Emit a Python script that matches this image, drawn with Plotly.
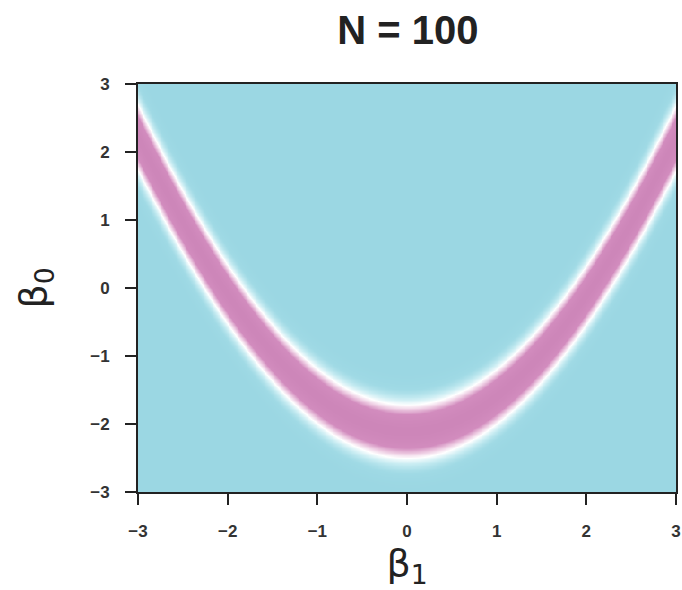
import numpy as np
import plotly.graph_objects as go

# Ridge of the likelihood band and its vertical spread
ridge_beta1 = [-3, -2, -1, 0, 1, 2, 3]
ridge_beta0 = [2.21, -0.1, -1.58, -2.12, -1.58, -0.1, 2.21]
band_sigma = [0.31, 0.28, 0.26, 0.25, 0.26, 0.28, 0.31]

x_ticks = [-3, -2, -1, 0, 1, 2, 3]
y_ticks = [-3, -2, -1, 0, 1, 2, 3]
title_text = "N = 100"

ridge_coef = np.polyfit(ridge_beta1, ridge_beta0, 4)
sigma_coef = np.polyfit(ridge_beta1, band_sigma, 2)
b1 = np.linspace(-3, 3, 301)
b0 = np.linspace(-3, 3, 301)
B1, B0 = np.meshgrid(b1, b0)
ridge = np.polyval(ridge_coef, B1)
sig = np.polyval(sigma_coef, B1)
Z = np.exp(-0.5 * ((B0 - ridge) / sig) ** 2)

cyan = "rgb(155,215,227)"
colorscale = [
    [0.0, cyan],
    [0.05, "rgb(160,218,229)"],
    [0.16, "rgb(200,236,242)"],
    [0.3, "rgb(255,255,255)"],
    [0.45, "rgb(236,200,224)"],
    [0.62, "rgb(210,140,190)"],
    [1.0, "rgb(205,134,185)"],
]

fig = go.Figure(go.Heatmap(x=b1, y=b0, z=Z, colorscale=colorscale, zmin=0, zmax=1,
                           showscale=False, zsmooth="best", hoverinfo="skip"))

tickfont = dict(family="Liberation Sans Narrow, Liberation Sans, Arial", size=17,
                color="#333", weight="bold")
axis_common = dict(
    range=[-3, 3], showgrid=False, zeroline=False, showline=True, linecolor="#222",
    linewidth=2, mirror=True, ticks="outside", ticklen=11, tickwidth=2, tickcolor="#222",
    tickfont=tickfont, automargin=False,
)

fig.update_xaxes(**axis_common, tickvals=x_ticks, ticklabelstandoff=12,
                 title=dict(text="β<sub>1</sub>", font=dict(family="DejaVu Sans", size=38, color="#222"),
                            standoff=0))
fig.update_yaxes(**axis_common, tickvals=y_ticks, ticklabelstandoff=12,
                 title=dict(text="β<sub>0</sub>", font=dict(family="DejaVu Sans", size=38, color="#222"),
                            standoff=32))

fig.update_layout(
    width=682, height=590,
    margin=dict(l=138, r=6, t=84, b=98),
    paper_bgcolor="white", plot_bgcolor="white",
    title=dict(text="<b>" + title_text + "</b>", x=0.5982, xanchor="center", y=0.949, yanchor="middle",
               font=dict(family="Liberation Sans, Arial", size=40, color="#222"), automargin=False),
)

fig.write_html("out.html", config={"displayModeBar": False},
               post_script="document.body.style.margin='0';document.body.style.overflow='hidden';")
